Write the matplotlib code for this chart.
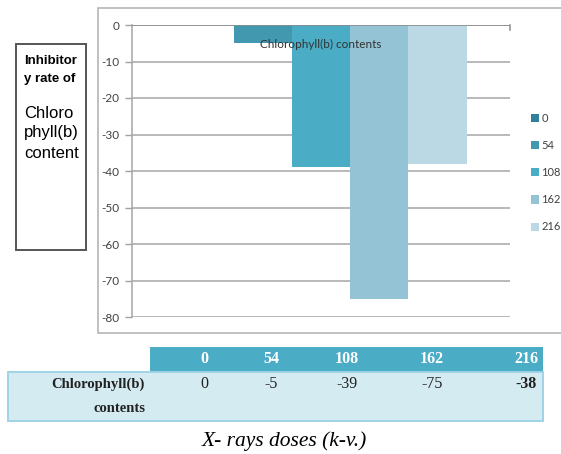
import matplotlib
matplotlib.use("Agg")
import matplotlib.pyplot as plt
from matplotlib.patches import Rectangle

# X-ray doses (k-v.) and inhibitory rate of chlorophyll(b) content
doses = ["0", "54", "108", "162", "216"]
values = [0, -5, -39, -75, -38]
category = "Chlorophyll(b) contents"
bar_colors = ["#2f8199", "#4198af", "#4bacc6", "#93c3d5", "#bad9e4"]
yticks = [0, -10, -20, -30, -40, -50, -60, -70, -80]

W, H = 561, 454
fig = plt.figure(figsize=(W / 100, H / 100), dpi=100)
fig.patch.set_facecolor("white")

CHART = ["Lato", "DejaVu Sans"]
ARIAL = ["Liberation Sans", "DejaVu Sans"]
SERIF = ["Liberation Serif", "DejaVu Serif"]


def fx(px):
    return px / W


def fy(py):
    return 1 - py / H


def box(x0, y0, x1, y1, z, **kw):
    fig.patches.append(Rectangle((fx(x0), fy(y1)), fx(x1) - fx(x0), fy(y0) - fy(y1),
                                 transform=fig.transFigure, zorder=z, **kw))


# outer chart frame
box(98, 8, 566, 333, -5, facecolor="white", edgecolor="#b5b5b5", linewidth=1.2)

# plot area
ax = fig.add_axes([fx(132), fy(317), fx(510) - fx(132), fy(25) - fy(317)])
ax.set_zorder(2)
ax.set_facecolor("none")
n = len(doses)
width = 0.1543
for i, (d, v, c) in enumerate(zip(doses, values, bar_colors)):
    ax.bar((i - (n - 1) / 2) * width, v, width=width, color=c, label=d, zorder=2)

ax.set_xlim(-0.5, 0.5)
ax.set_ylim(-80, 0)
ax.set_yticks(yticks)
ax.set_yticklabels([str(t) for t in yticks], fontfamily=CHART, fontsize=8.5, color="#404040")
ax.tick_params(axis="y", length=5, width=1, color="#a0a0a0", pad=4)
ax.set_xticks([])
ax.grid(axis="y", color="#a6a6a6", linewidth=1.1, zorder=1)
ax.set_axisbelow(True)
for s in ["top", "right", "bottom"]:
    ax.spines[s].set_visible(False)
ax.spines["left"].set_color("#a6a6a6")
ax.spines["left"].set_linewidth(1.1)
# category axis crosses at zero
ax.axhline(0, color="#8c8c8c", linewidth=1.2, zorder=3)
ax.plot([0.5, 0.5], [0, -1.3], color="#8c8c8c", linewidth=1.1, clip_on=False, zorder=3)
ax.text(0, -5.2, category, ha="center", va="center", fontfamily=CHART,
        fontsize=8.5, color="#333333", zorder=4)

leg = ax.legend(loc="upper left", bbox_to_anchor=(fx(521), fy(103)),
                bbox_transform=fig.transFigure, frameon=False,
                prop={"family": CHART, "size": 8}, handlelength=0.75,
                handleheight=0.75, handletextpad=0.2, labelspacing=1.45)
for t in leg.get_texts():
    t.set_color("#404040")

# side title box
box(16, 44, 86, 250, 1, facecolor="white", edgecolor="#555555", linewidth=1.4)
fig.text(fx(24), fy(61), "Inhibitor", fontsize=9.5, fontweight="bold",
         fontfamily=ARIAL, va="center", ha="left")
fig.text(fx(24), fy(79), "y rate of", fontsize=9.5, fontweight="bold",
         fontfamily=ARIAL, va="center", ha="left")
for txt, yy in [("Chloro", 113), ("phyll(b)", 133), ("content", 153)]:
    fig.text(fx(24), fy(yy), txt, fontsize=12, fontfamily=ARIAL, va="center", ha="left")

# data table under the chart
box(150, 347, 543, 372, 1, facecolor="#4bacc6", edgecolor="none")
box(8, 372, 543, 421, 1, facecolor="#d4ebf2", edgecolor="#9fd3e6", linewidth=1.4)
col_x = [204, 271, 347, 432, 526]
for d, v, cx in zip(doses, values, col_x):
    fig.text(fx(cx), fy(359), d, color="white", fontweight="bold", fontsize=11.5,
             fontfamily=SERIF, ha="center", va="center")
    bold = "bold" if d == doses[-1] else "normal"
    fig.text(fx(cx), fy(384), str(v), color="#222222", fontweight=bold, fontsize=11.5,
             fontfamily=SERIF, ha="center", va="center")
fig.text(fx(145), fy(384), "Chlorophyll(b)", fontweight="bold", fontsize=10.5,
         fontfamily=SERIF, ha="right", va="center", color="#222222")
fig.text(fx(145), fy(409), "contents", fontweight="bold", fontsize=10.5,
         fontfamily=SERIF, ha="right", va="center", color="#222222")

fig.text(fx(284), fy(441), "X- rays doses (k-v.)", fontstyle="italic", fontsize=15.5,
         fontfamily=SERIF, ha="center", va="center")

fig.savefig("out.png", dpi=100)
